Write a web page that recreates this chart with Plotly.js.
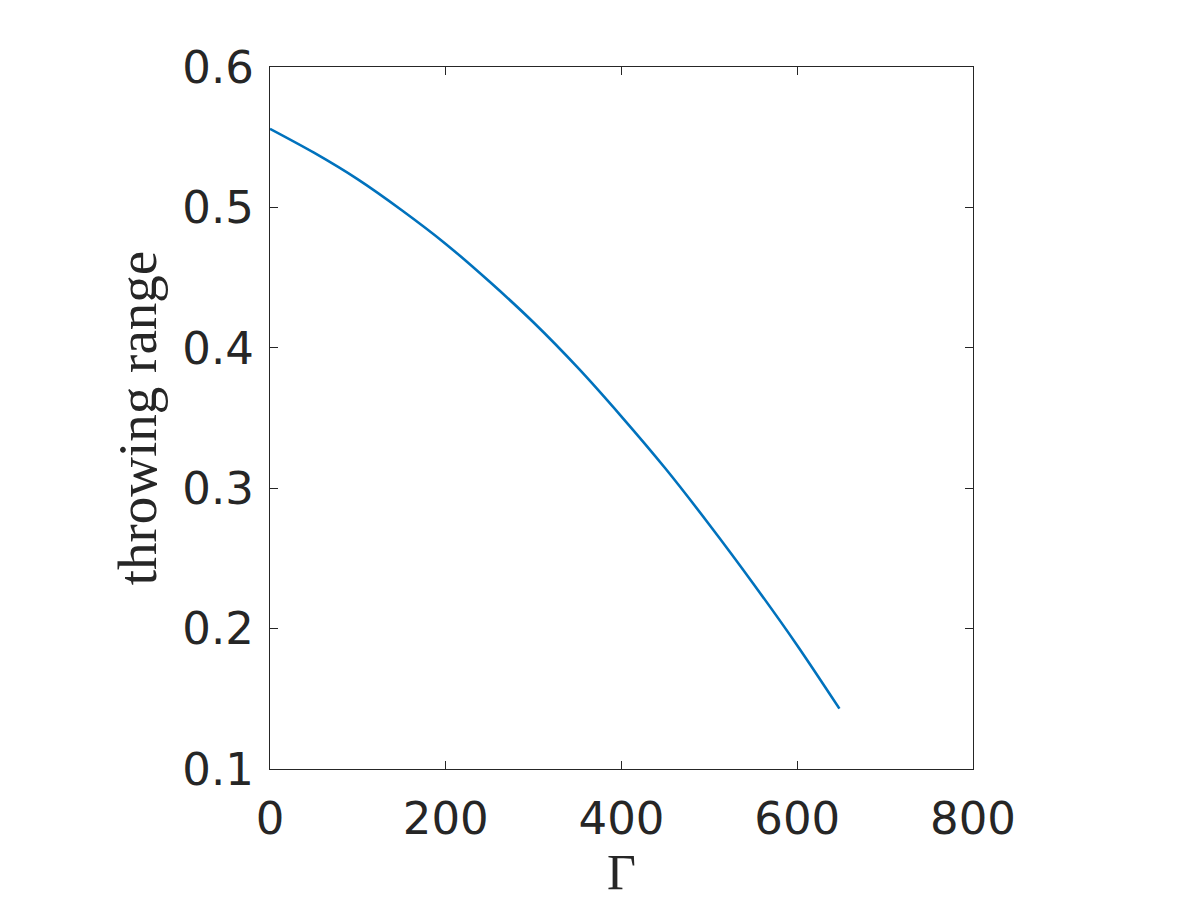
<!DOCTYPE html>
<html>
<head>
<meta charset="utf-8">
<script src="https://cdn.plot.ly/plotly-3.0.1.min.js"></script>
<style>
  html, body { margin: 0; padding: 0; background: #fff; }
  #chart { width: 1200px; height: 900px; }
</style>
</head>
<body>
<div id="chart"></div>
<script>
// values
const gamma = [0, 50, 100, 150, 200, 250, 300, 350, 400, 450, 500, 550, 600, 648];
const range = [0.556, 0.539, 0.520, 0.498, 0.474, 0.447, 0.418, 0.386, 0.351, 0.314, 0.274, 0.232, 0.188, 0.143];

const xTicks = [0, 200, 400, 600, 800];
const yTicks = [0.1, 0.2, 0.3, 0.4, 0.5, 0.6];

const INK = '#262626';

const AXIS = {
  showgrid: false,
  zeroline: false,
  showline: true,
  mirror: 'ticks',
  linecolor: INK,
  linewidth: 1.3,
  ticks: 'inside',
  ticklen: 8,
  tickwidth: 1.3,
  tickcolor: INK,
  tickfont: { family: 'DejaVu Sans', size: 45, color: INK },
};

Plotly.newPlot('chart', [{
  type: 'scatter',
  mode: 'lines',
  x: gamma,
  y: range,
  line: { color: '#0072BD', width: 2.6, shape: 'spline', smoothing: 0.8 },
  hoverinfo: 'x+y',
}], {
  width: 1200,
  height: 900,
  paper_bgcolor: '#fff',
  plot_bgcolor: '#fff',
  showlegend: false,
  margin: { l: 270, r: 227, t: 67, b: 131 },
  xaxis: {
    ...AXIS,
    range: [0, 800],
    tickvals: xTicks,
    ticktext: xTicks.map(String),
    ticklabelstandoff: 10,
    title: { text: 'Γ', font: { family: 'Liberation Serif', size: 50, color: INK }, standoff: 6 },
  },
  yaxis: {
    ...AXIS,
    range: [0.1, 0.6],
    tickvals: yTicks,
    ticktext: yTicks.map(v => v.toFixed(1)),
    ticklabelstandoff: 6,
    title: { text: 'throwing range', font: { family: 'Liberation Serif', size: 55, color: INK }, standoff: 8 },
  },
}, { displayModeBar: false, responsive: false });
</script>
</body>
</html>
